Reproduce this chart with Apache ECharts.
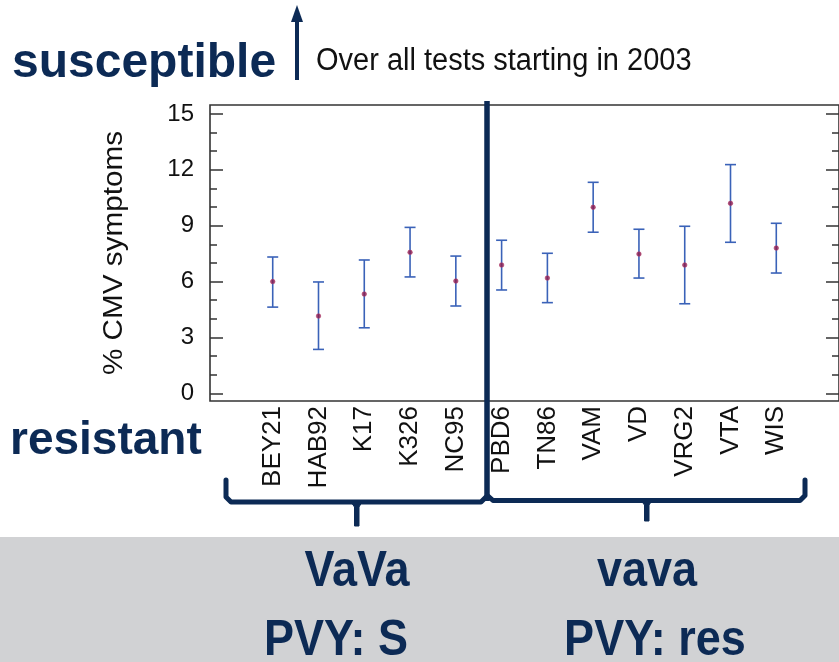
<!DOCTYPE html>
<html lang="en">
<head>
  <meta charset="utf-8">
  <title>CMV symptoms</title>
  <script src="https://cdn.jsdelivr.net/npm/echarts@6/dist/echarts.min.js"></script>
  <style>
    html, body { margin: 0; padding: 0; background: #fff; }
    #chart { width: 839px; height: 662px; }
  </style>
</head>
<body>
<div id="chart"></div>

<script>
// lines (categories) and their values
var lines = ['BEY21', 'HAB92', 'K17', 'K326', 'NC95', 'PBD6', 'TN86', 'VAM', 'VD', 'VRG2', 'VTA', 'WIS'];
var means = [6.0, 4.15, 5.33, 7.57, 6.03, 6.89, 6.19, 9.99, 7.48, 6.89, 10.2, 7.8];
var lower = [4.63, 2.36, 3.52, 6.25, 4.69, 5.55, 4.87, 8.65, 6.19, 4.81, 8.11, 6.46];
var upper = [7.32, 5.98, 7.16, 8.91, 7.37, 8.22, 7.52, 11.33, 8.81, 8.97, 12.28, 9.13];
var yMajor = [0, 3, 6, 9, 12, 15];
var yMinor = [0, 1, 2, 3, 4, 5, 6, 7, 8, 9, 10, 11, 12, 13, 14, 15];

var navy = '#0c2a55';
var barBlue = '#3a62b8';
var axisCol = '#333';

var chart = echarts.init(document.getElementById('chart'));

var xIdx = lines.map(function (d, i) { return i; });
var meanData = means.map(function (v, i) { return [i, v]; });
var barData = lower.map(function (v, i) { return [i, v, upper[i]]; });

function errorBar(params, api) {
  var x = api.value(0);
  var lo = api.coord([x, api.value(1)]);
  var hi = api.coord([x, api.value(2)]);
  var w = 5.5;
  var st = { stroke: barBlue, lineWidth: 1.6 };
  return {
    type: 'group',
    children: [
      { type: 'line', shape: { x1: lo[0], y1: lo[1], x2: hi[0], y2: hi[1] }, style: st },
      { type: 'line', shape: { x1: lo[0] - w, y1: lo[1], x2: lo[0] + w, y2: lo[1] }, style: st },
      { type: 'line', shape: { x1: hi[0] - w, y1: hi[1], x2: hi[0] + w, y2: hi[1] }, style: st }
    ]
  };
}

var yMin = -0.41, yMax = 15.48, xMin = -1.37, xMax = 12.37;
var gridBox = { left: 210, top: 105, width: 635, height: 296 };

function yAx(gi, pos, ticks, len, labels) {
  return {
    type: 'value', gridIndex: gi, position: pos, min: yMin, max: yMax,
    axisLine: { show: false, onZero: false },
    splitLine: { show: false },
    axisTick: { show: true, inside: true, length: len, customValues: ticks, lineStyle: { color: axisCol, width: 1.5 } },
    axisLabel: labels ? { show: true, customValues: yMajor, fontSize: 24, color: '#111', margin: 16, fontFamily: 'Liberation Sans' } : { show: false }
  };
}

var braceStyle = { stroke: navy, lineWidth: 5, lineCap: 'round', lineJoin: 'round', fill: null };
var txtFont = '"Liberation Sans", Arial, sans-serif';

var option = {
  animation: false,
  backgroundColor: '#fff',
  grid: [
    Object.assign({ show: true, borderColor: axisCol, borderWidth: 1.6, backgroundColor: 'transparent' }, gridBox),
    Object.assign({ show: false }, gridBox)
  ],
  xAxis: [
    {
      type: 'value', gridIndex: 0, min: xMin, max: xMax,
      axisLine: { show: false, onZero: false }, axisTick: { show: false }, splitLine: { show: false },
      axisLabel: {
        customValues: xIdx, rotate: 90, fontSize: 26, color: '#111', margin: 5,
        fontFamily: 'Liberation Sans',
        formatter: function (v) { return lines[Math.round(v)]; }
      }
    },
    {
      type: 'value', gridIndex: 1, min: xMin, max: xMax, show: false,
      axisLine: { onZero: false }
    }
  ],
  yAxis: [
    yAx(0, 'left', yMajor, 13, true),
    yAx(0, 'right', yMajor, 13, false),
    yAx(1, 'left', yMinor, 7, false),
    yAx(1, 'right', yMinor, 7, false)
  ],
  series: [
    {
      type: 'custom', xAxisIndex: 0, yAxisIndex: 0,
      renderItem: errorBar, data: barData, z: 2
    },
    {
      type: 'scatter', xAxisIndex: 0, yAxisIndex: 0,
      data: meanData, symbol: 'circle', symbolSize: 4.5, z: 3,
      itemStyle: { color: '#8a1c4d', borderColor: '#b03a6a', borderWidth: 0.8 }
    }
  ],
  graphic: [
    // grey band at the bottom
    { type: 'rect', shape: { x: 0, y: 537, width: 839, height: 125 }, style: { fill: '#d1d2d4' }, z: -1 },
    // titles
    { type: 'text', x: 12, y: 64, style: { text: 'susceptible', font: 'bold 48px ' + txtFont, fill: navy, verticalAlign: 'middle' } },
    { type: 'line', shape: { x1: 297, y1: 80, x2: 297, y2: 20 }, style: { stroke: navy, lineWidth: 4 } },
    { type: 'polygon', shape: { points: [[291, 22], [303, 22], [297, 5]] }, style: { fill: navy } },
    { type: 'text', x: 316, y: 61, scaleY: 1.1, style: { text: 'Over all tests starting in 2003', font: '29px ' + txtFont, fill: '#111', verticalAlign: 'middle' } },
    { type: 'text', x: 10, y: 441, style: { text: 'resistant', font: 'bold 46px ' + txtFont, fill: navy, verticalAlign: 'middle' } },
    // y axis name
    { type: 'text', x: 115, y: 253, rotation: Math.PI / 2, scaleX: 1.1, style: { text: '% CMV symptoms', font: '27px ' + txtFont, fill: '#111', align: 'center', verticalAlign: 'middle' } },
    // divider between groups
    { type: 'line', shape: { x1: 487, y1: 101, x2: 487, y2: 501 }, style: { stroke: navy, lineWidth: 5.5 }, z: 10 },
    // braces
    { type: 'polyline', shape: { points: [[226, 480], [226, 497], [231, 502], [481, 502], [486, 497]] }, style: braceStyle },
    { type: 'polygon', shape: { points: [[351, 502], [362, 502], [359, 507], [359, 526], [354.5, 526], [354.5, 507]] }, style: { fill: navy, stroke: navy, lineWidth: 1, lineJoin: 'round' } },
    { type: 'polyline', shape: { points: [[488, 496], [493, 500.5], [800, 500.5], [805, 495.5], [805, 480]] }, style: braceStyle },
    { type: 'polygon', shape: { points: [[641, 500.5], [652, 500.5], [649, 505], [649, 521], [644.5, 521], [644.5, 505]] }, style: { fill: navy, stroke: navy, lineWidth: 1, lineJoin: 'round' } },
    // genotype labels
    { type: 'text', x: 357, y: 572, scaleY: 1.1, style: { text: 'VaVa', font: 'bold 45px ' + txtFont, fill: navy, align: 'center', verticalAlign: 'middle' } },
    { type: 'text', x: 647, y: 572, scaleY: 1.1, style: { text: 'vava', font: 'bold 45px ' + txtFont, fill: navy, align: 'center', verticalAlign: 'middle' } },
    { type: 'text', x: 336, y: 641, scaleY: 1.1, style: { text: 'PVY: S', font: 'bold 45px ' + txtFont, fill: navy, align: 'center', verticalAlign: 'middle' } },
    { type: 'text', x: 655, y: 641, scaleY: 1.1, style: { text: 'PVY: res', font: 'bold 45px ' + txtFont, fill: navy, align: 'center', verticalAlign: 'middle' } }
  ]
};

chart.setOption(option);
</script>
</body>
</html>
